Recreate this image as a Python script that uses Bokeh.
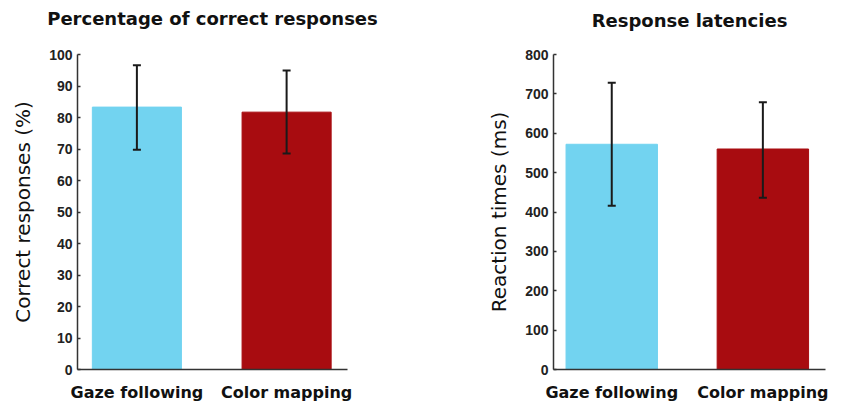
from bokeh.plotting import figure
from bokeh.layouts import row
from bokeh.models import ColumnDataSource, Whisker, FixedTicker, Range1d, Title
from bokeh.embed import file_html
from bokeh.resources import INLINE

categories = ["Gaze following", "Color mapping"]
colors = ["#72d3f0", "#a80c10"]

accuracy_mean = [83.3, 81.7]
accuracy_upper = [96.6, 94.9]
accuracy_lower = [69.8, 68.6]

latency_mean = [572, 560]
latency_upper = [728, 679]
latency_lower = [416, 436]

acc_ticks = [0, 10, 20, 30, 40, 50, 60, 70, 80, 90, 100]
lat_ticks = [0, 100, 200, 300, 400, 500, 600, 700, 800]

TFONT = "DejaVu Sans"
NFONT = "Liberation Sans"


def make_panel(title, ylabel, means, upper, lower, ticks, ymax, width,
               left, right, top, bottom, xr, bar_w, spacer_size):
    xs = [1, 2]
    src = ColumnDataSource(dict(x=xs, top=means, upper=upper, lower=lower,
                                color=colors))
    p = figure(width=width, height=404, output_backend="svg",
               toolbar_location=None, x_range=Range1d(*xr),
               y_range=Range1d(0, ymax), title=None,
               min_border_left=left, min_border_right=right,
               min_border_top=top, min_border_bottom=bottom)
    p.vbar(x="x", top="top", width=bar_w, color="color", source=src)
    w = Whisker(source=src, base="x", upper="upper", lower="lower",
                line_color="#1a1a1a", line_width=2, level="overlay")
    w.upper_head.size = 8
    w.lower_head.size = 8
    w.upper_head.line_width = 2
    w.lower_head.line_width = 2
    w.upper_head.line_color = "#1a1a1a"
    w.lower_head.line_color = "#1a1a1a"
    p.add_layout(w)

    spacer = Title(text=" ", text_font_size=spacer_size, text_font=TFONT)
    p.add_layout(spacer, "above")
    t = Title(text=title, align="center", text_font=TFONT,
              text_font_size="18px", text_font_style="bold",
              text_color="#111111")
    p.add_layout(t, "above")

    p.grid.visible = False
    p.outline_line_color = None
    p.background_fill_color = "white"
    p.border_fill_color = "white"

    ya = p.yaxis[0]
    ya.ticker = FixedTicker(ticks=ticks)
    ya.minor_tick_line_color = None
    ya.major_tick_in = 3
    ya.major_tick_out = 0
    ya.axis_line_color = "#333333"
    ya.axis_line_width = 1.5
    ya.major_tick_line_color = "#333333"
    ya.major_tick_line_width = 1.5
    ya.major_label_text_font = NFONT
    ya.major_label_text_font_size = "14px"
    ya.major_label_text_font_style = "bold"
    ya.major_label_text_color = "#222222"
    ya.major_label_standoff = 5
    ya.axis_label = ylabel
    ya.axis_label_text_font = TFONT
    ya.axis_label_text_font_size = "20px"
    ya.axis_label_text_font_style = "normal"
    ya.axis_label_text_color = "#111111"
    ya.axis_label_standoff = 11

    xa = p.xaxis[0]
    xa.ticker = FixedTicker(ticks=xs)
    xa.major_label_overrides = {1: categories[0], 2: categories[1]}
    xa.minor_tick_line_color = None
    xa.major_tick_line_color = None
    xa.axis_line_color = "#333333"
    xa.axis_line_width = 1.5
    xa.major_label_text_font = TFONT
    xa.major_label_text_font_size = "16px"
    xa.major_label_text_font_style = "bold"
    xa.major_label_text_color = "#111111"
    xa.major_label_standoff = 7
    return p


p1 = make_panel("Percentage of correct responses", "Correct responses (%)",
                accuracy_mean, accuracy_upper, accuracy_lower, acc_ticks, 100,
                width=420, left=77, right=73, top=40, bottom=34,
                xr=(0.6033, 2.4067), bar_w=0.595, spacer_size="8px")

p2 = make_panel("Response latencies", "Reaction times (ms)",
                latency_mean, latency_upper, latency_lower, lat_ticks, 800,
                width=421, left=133, right=16, top=40, bottom=34,
                xr=(0.6145, 2.4145), bar_w=0.605, spacer_size="6px")

layout = row(p1, p2)
open("out.html", "w").write(file_html(layout, INLINE))
